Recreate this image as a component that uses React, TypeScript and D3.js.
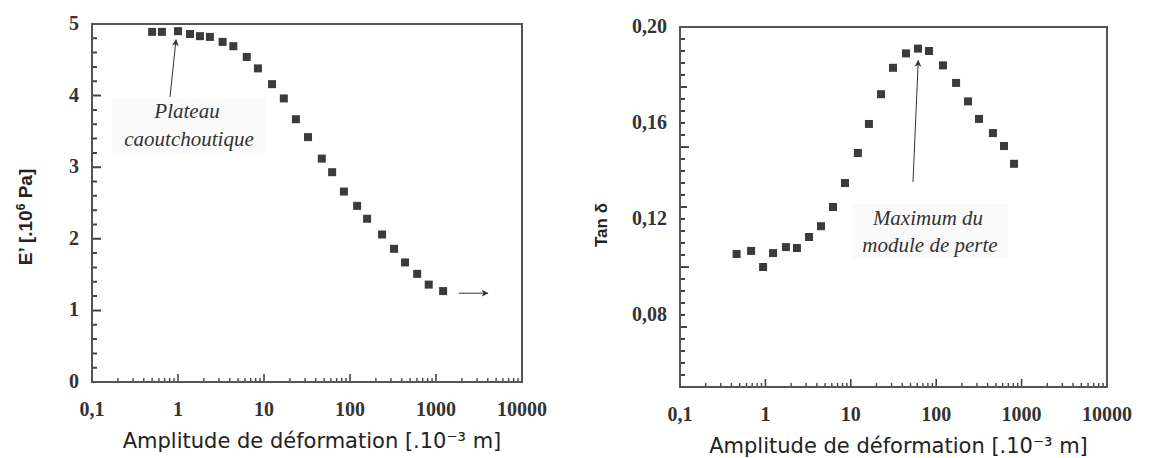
import React from 'react';
import * as d3 from 'd3';

// E' vs amplitude (left panel)
const ampE = [0.5, 0.65, 1.0, 1.38, 1.8, 2.35, 3.3, 4.4, 6.3, 8.5, 12.4, 17, 23.5, 32.5, 47, 62, 85, 121, 158, 236, 325, 436, 604, 823, 1210];
const valE = [4.89, 4.89, 4.9, 4.86, 4.83, 4.82, 4.75, 4.69, 4.54, 4.38, 4.16, 3.96, 3.67, 3.42, 3.12, 2.93, 2.66, 2.46, 2.28, 2.06, 1.86, 1.67, 1.51, 1.36, 1.27];

// tan delta vs amplitude (right panel)
const ampTan = [0.46, 0.68, 0.94, 1.23, 1.74, 2.34, 3.24, 4.48, 6.19, 8.55, 12.1, 16.3, 22.6, 31.2, 44.3, 61.2, 82.4, 120, 171, 236, 317, 462, 622, 815];
const valTan = [0.1054, 0.1067, 0.1, 0.1058, 0.1083, 0.1079, 0.1125, 0.117, 0.125, 0.135, 0.1475, 0.1596, 0.172, 0.183, 0.189, 0.191, 0.19, 0.184, 0.1767, 0.169, 0.1617, 0.1558, 0.1504, 0.143];

const xTicks = [0.1, 1, 10, 100, 1000, 10000];
const xTickLabels = ['0,1', '1', '10', '100', '1000', '10000'];
const eTicks = [0, 1, 2, 3, 4, 5];
const tanTicks = [0.08, 0.12, 0.16, 0.2];
const tanTickLabels = ['0,08', '0,12', '0,16', '0,20'];

const xTitle = 'Amplitude de déformation [.10⁻³ m]';

const frame = '#555';
const tickColor = '#444';
const markColor = '#3b3b3b';

type PanelProps = {
  left: number; right: number; top: number; bottom: number;
  yDomain: [number, number];
  yMajor: number[]; yLabels: string[];
  yMinorCount: number; yMidEvery: number; yMajorEvery: number;
  xs: number[]; ys: number[];
  yTitle: React.ReactNode; yTitleX: number; yTitleY: number; yTitleSize: number;
  children?: (x: d3.ScaleLogarithmic<number, number>, y: d3.ScaleLinear<number, number>) => React.ReactNode;
};

const Panel = (p: PanelProps) => {
  const x = d3.scaleLog().domain([0.1, 10000]).range([p.left, p.right]);
  const y = d3.scaleLinear().domain(p.yDomain).range([p.bottom, p.top]);

  const xMinor: number[] = [];
  for (let d = 0.1; d < 10000; d *= 10) {
    for (let k = 2; k <= 9; k++) xMinor.push(d * k);
  }
  // y ticks by index from the top of the axis, drawn as one path
  const step = (p.yDomain[1] - p.yDomain[0]) / p.yMinorCount;
  const yTickPath = d3.range(p.yMinorCount + 1).map(i => {
    const len = i % p.yMajorEvery === 0 ? 9 : i % p.yMidEvery === 0 ? 7 : 5;
    const yy = y(p.yDomain[1] - i * step);
    return `M${p.left},${yy.toFixed(1)}h${len}`;
  }).join('');

  return (
    <g>
      {xMinor.map((v, i) => (
        <line key={'xm' + i} x1={x(v)} x2={x(v)} y1={p.bottom} y2={p.bottom - 4} stroke={tickColor} strokeWidth={1.4} />
      ))}
      {xTicks.map((v, i) => (
        <g key={'xt' + i}>
          <line x1={x(v)} x2={x(v)} y1={p.bottom} y2={p.bottom - 8} stroke={tickColor} strokeWidth={1.6} />
          <text x={x(v)} y={p.bottom + 34} textAnchor="middle" fontFamily="Liberation Serif" fontWeight="bold" fontSize={20} fill="#333">
            {xTickLabels[i]}
          </text>
        </g>
      ))}
      <path d={yTickPath} stroke={tickColor} strokeWidth={2} fill="none" />
      {p.yMajor.map((v, i) => (
        <text key={'yt' + i} x={p.left - 13} y={y(v) + 6} textAnchor="end" fontFamily="Liberation Serif" fontWeight="bold" fontSize={20} fill="#333">
          {p.yLabels[i]}
        </text>
      ))}
      <rect x={p.left} y={p.top} width={p.right - p.left} height={p.bottom - p.top} fill="none" stroke={frame} strokeWidth={2} />
      {p.xs.map((v, i) => (
        <rect key={'pt' + i} x={x(v) - 4} y={y(p.ys[i]) - 4} width={8} height={8} fill={markColor} />
      ))}
      {p.children && p.children(x, y)}
      <text transform={`translate(${p.yTitleX},${p.yTitleY}) rotate(-90)`} textAnchor="middle" fontFamily="Liberation Sans" fontWeight="bold" fontSize={p.yTitleSize} fill="#222">
        {p.yTitle}
      </text>
      <text x={(p.left + p.right) / 2 + 5} y={p.bottom + 66} textAnchor="middle" fontFamily="DejaVu Sans" fontSize={21} fill="#222">
        {xTitle}
      </text>
    </g>
  );
};

const italic = { fontFamily: 'Liberation Serif', fontStyle: 'italic', fontSize: 21, fill: '#333' } as const;

export default function App() {
  return (
    <svg width={1161} height={458} style={{ position: 'absolute', left: 0, top: 0, background: '#fff' }}>
      <defs>
        <marker id="ah" viewBox="0 0 10 10" refX={9} refY={5} markerWidth={7} markerHeight={7} orient="auto-start-reverse">
          <path d="M0,0 L10,5 L0,10 L3,5 z" fill="#333" />
        </marker>
      </defs>
      <Panel
        left={92} right={522} top={24} bottom={382}
        yDomain={[0, 5]} yMajor={eTicks} yLabels={eTicks.map(String)}
        yMinorCount={25} yMidEvery={5} yMajorEvery={5}
        xs={ampE} ys={valE}
        yTitle={<>E’ [.10<tspan dy={-7} fontSize={12}>6</tspan><tspan dy={7}> Pa]</tspan></>}
        yTitleX={32} yTitleY={217} yTitleSize={19}
      >
        {(x, y) => (
          <g>
            <rect x={112} y={99} width={154} height={54} fill="#fafafa" />
            <text x={187} y={118} textAnchor="middle" {...italic}>Plateau</text>
            <text x={189} y={146} textAnchor="middle" {...italic}>caoutchoutique</text>
            <line x1={170} y1={97} x2={x(1) - 2} y2={y(4.78)} stroke="#333" strokeWidth={1} markerEnd="url(#ah)" />
            <line x1={x(1200) + 16} y1={y(1.24)} x2={x(1200) + 45} y2={y(1.24)} stroke="#333" strokeWidth={1} markerEnd="url(#ah)" />
          </g>
        )}
      </Panel>
      <Panel
        left={680} right={1107} top={27} bottom={387}
        yDomain={[0.05, 0.2]} yMajor={tanTicks} yLabels={tanTickLabels}
        yMinorCount={30} yMidEvery={5} yMajorEvery={10}
        xs={ampTan} ys={valTan}
        yTitle="Tan δ"
        yTitleX={607} yTitleY={225} yTitleSize={17}
      >
        {(x, y) => (
          <g>
            <rect x={852} y={204} width={156} height={54} fill="#fafafa" />
            <text x={928} y={225} textAnchor="middle" {...italic}>Maximum du</text>
            <text x={930} y={252} textAnchor="middle" {...italic}>module de perte</text>
            <line x1={913} y1={182} x2={x(60) + 1} y2={y(0.186)} stroke="#333" strokeWidth={1} markerEnd="url(#ah)" />
          </g>
        )}
      </Panel>
    </svg>
  );
}
